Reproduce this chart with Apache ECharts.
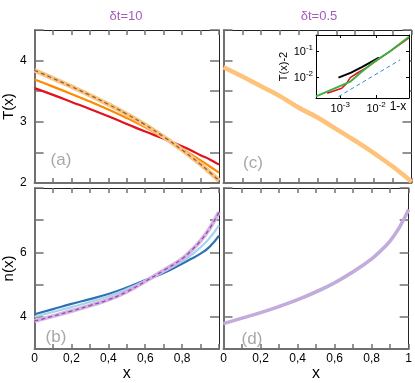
<!DOCTYPE html>
<html><head><meta charset="utf-8">
<script src="https://cdn.jsdelivr.net/npm/echarts@6/dist/echarts.min.js"></script>
<style>html,body{margin:0;padding:0;background:#fff}#c{width:415px;height:383px}</style>
</head><body><div id="c"></div>
<script>
// ---- data ----
const xs = [0, 0.1, 0.2, 0.3, 0.4, 0.5, 0.6, 0.7, 0.8, 0.85, 0.9, 0.95, 1];
// panel (a), dt=10, T(x)
const aRed    = [3.55, 3.44, 3.325, 3.21, 3.09, 2.965, 2.84, 2.725, 2.60, 2.53, 2.455, 2.385, 2.30];
const aOrange = [3.69, 3.575, 3.455, 3.33, 3.20, 3.06, 2.91, 2.74, 2.56, 2.465, 2.37, 2.27, 2.17];
const aLight  = [3.84, 3.71, 3.575, 3.435, 3.285, 3.125, 2.95, 2.755, 2.54, 2.425, 2.305, 2.175, 2.04];
const aDashed = [3.84, 3.71, 3.575, 3.435, 3.285, 3.125, 2.95, 2.755, 2.54, 2.425, 2.305, 2.175, 2.04];
// panel (c), dt=0.5, T(x)
const cRed    = [3.90, 3.75, 3.59, 3.43, 3.25, 3.09, 2.90, 2.70, 2.50, 2.39, 2.28, 2.16, 2.03];
const cOrange = [3.88, 3.73, 3.57, 3.41, 3.22, 3.06, 2.87, 2.68, 2.48, 2.37, 2.26, 2.14, 2.01];
const cLight  = [3.89, 3.74, 3.58, 3.42, 3.23, 3.07, 2.88, 2.69, 2.49, 2.38, 2.27, 2.15, 2.02];
// panel (b), dt=10, n(x)
const bDark   = [4.08, 4.24, 4.40, 4.55, 4.71, 4.91, 5.14, 5.36, 5.65, 5.80, 5.96, 6.18, 6.52];
const bLight  = [4.00, 4.15, 4.30, 4.46, 4.64, 4.86, 5.12, 5.40, 5.72, 5.92, 6.16, 6.45, 6.84];
const bPurple = [3.87, 4.02, 4.18, 4.35, 4.53, 4.78, 5.10, 5.44, 5.80, 6.06, 6.36, 6.75, 7.25];
// panel (d), dt=0.5, n(x)
const dBlue   = [3.78, 3.95, 4.12, 4.31, 4.51, 4.75, 5.03, 5.37, 5.77, 6.03, 6.33, 6.76, 7.32];
const dPurple = [3.79, 3.96, 4.13, 4.32, 4.53, 4.78, 5.06, 5.40, 5.80, 6.06, 6.36, 6.78, 7.33];
// inset: [1-x, T(x)-2]
const insetBlack = [[8.9e-4, 0.010], [2e-3, 0.0155], [4e-3, 0.025], [7.6e-3, 0.041], [0.012, 0.058]];
const insetRed   = [[4.3e-4, 2.5e-3], [1.1e-3, 3.9e-3], [1.5e-3, 6e-3], [1.9e-3, 0.010], [3e-3, 0.015], [5.5e-3, 0.024], [0.012, 0.052], [0.024, 0.10], [0.083, 0.33]];
const insetGreen = [[2.1e-4, 1.9e-3], [8.1e-4, 4.2e-3], [1.9e-3, 7e-3], [3.6e-3, 0.015], [7.6e-3, 0.035], [0.024, 0.10], [0.083, 0.37]];
const insetBlue  = [[8.9e-4, 1.86e-3], [0.047, 0.048]];
const titles = ['\u03b4t=10', '\u03b4t=0.5'];
const panelLabels = ['(a)', '(c)', '(b)', '(d)'];

// ---- chart ----
const GRAY = '#707070';
const FONT = 'Liberation Sans, Arial, sans-serif';
const zip = (x, y) => x.map((v, i) => [v, y[i]]);

const grids = [
  {left: 32, top: 30, width: 187, height: 153},
  {left: 223.5, top: 30, width: 188, height: 153},
  {left: 32, top: 188, width: 187, height: 164},
  {left: 223.5, top: 188, width: 188, height: 164},
  {left: 316, top: 35, width: 93, height: 63, show: true, backgroundColor: '#fff', borderWidth: 0, z: 3}
];

const xFmt = showOne => v => {
  const r = Math.round(v * 10);
  if (r % 2) return '';
  if (r === 0) return '0';
  if (r === 10) return showOne ? '1' : '';
  return '0,' + r;
};
const line = {show: true, onZero: false, lineStyle: {color: GRAY, width: 2}};
const lineThin = {show: true, onZero: false, lineStyle: {color: '#222', width: 1}};
const xTick = {show: true, inside: true, length: 5, lineStyle: {color: GRAY, width: 1.5}};
const yTick = {show: true, inside: true, length: 9, lineStyle: {color: GRAY, width: 1.5}};

const xAxis = [], yAxis = [];
for (let p = 0; p < 4; p++) {
  const bottomRow = p >= 2, leftCol = (p % 2) === 0;
  const base = {type: 'value', gridIndex: p, min: 0, max: 1, interval: 0.1, splitLine: {show: false}, axisTick: xTick};
  xAxis.push(Object.assign({}, base, {
    position: 'bottom', axisLine: line,
    axisLabel: {show: bottomRow, formatter: xFmt(!leftCol), color: '#000', fontSize: 12, fontFamily: FONT, margin: 4, showMinLabel: true, showMaxLabel: true},
    name: bottomRow ? 'x' : '', nameLocation: 'middle', nameGap: 17,
    nameTextStyle: {color: '#000', fontSize: 16, fontFamily: FONT}
  }));
  xAxis.push(Object.assign({}, base, {position: 'top', axisLine: lineThin, axisLabel: {show: false}}));
  const yb = bottomRow ? {min: 3, max: 8, interval: 1} : {min: 2, max: 4.5, interval: 0.5};
  const yFmt = bottomRow ? (v => (v === 4 || v === 6) ? String(v) : '')
                         : (v => Math.abs(v - Math.round(v)) < 1e-6 ? String(Math.round(v)) : '');
  const ybase = Object.assign({type: 'value', gridIndex: p, splitLine: {show: false}, axisTick: yTick}, yb);
  yAxis.push(Object.assign({}, ybase, {
    position: 'left', axisLine: line,
    axisLabel: {show: leftCol, formatter: yFmt, color: '#000', fontSize: 12, fontFamily: FONT, margin: 8, showMinLabel: true},
    name: leftCol ? (bottomRow ? 'n(x)' : 'T(x)') : '', nameLocation: 'middle', nameGap: 15,
    nameTextStyle: {color: '#000', fontSize: 15, fontFamily: FONT}
  }));
  yAxis.push(Object.assign({}, ybase, {position: 'right', axisLine: lineThin, axisLabel: {show: false}}));
}
// inset log axes
const logFmt = v => {
  const e = Math.log10(v);
  const r = Math.round(e);
  if (Math.abs(e - r) > 1e-6) return '';
  return '{b|10}{s|' + r + '}';
};
const rich = {b: {fontSize: 11, fontFamily: FONT, color: '#000'}, s: {fontSize: 8, fontFamily: FONT, color: '#000', padding: [0, 0, 7, 0]}};
const iLine = {show: true, onZero: false, lineStyle: {color: '#000', width: 1}};
const iTick = {show: true, inside: true, length: 3, lineStyle: {color: '#000', width: 1}};
const ixBase = {type: 'log', logBase: 10, gridIndex: 4, min: 2.1e-4, max: 0.083, splitLine: {show: false}, axisLine: iLine, axisTick: iTick, z: 4};
xAxis.push(Object.assign({}, ixBase, {position: 'bottom', axisLabel: {formatter: logFmt, rich: rich, margin: 3}}));
xAxis.push(Object.assign({}, ixBase, {position: 'top', axisLabel: {show: false}}));
const iyBase = {type: 'log', logBase: 10, gridIndex: 4, min: 1.65e-3, max: 0.43, splitLine: {show: false}, axisLine: iLine, axisTick: iTick, z: 4};
yAxis.push(Object.assign({}, iyBase, {position: 'left', axisLabel: {formatter: logFmt, rich: rich, margin: 3},
  name: 'T(x)-2', nameLocation: 'middle', nameGap: 27, nameTextStyle: {color: '#000', fontSize: 11, fontFamily: FONT}}));
yAxis.push(Object.assign({}, iyBase, {position: 'right', axisLabel: {show: false}}));

const S = (p, data, color, width, extra) => Object.assign({
  type: 'line', xAxisIndex: 2 * p, yAxisIndex: 2 * p, data: data, showSymbol: false, smooth: true,
  lineStyle: {color: color, width: width}, silent: true
}, extra || {});
const I = (data, color, width, type) => ({
  type: 'line', xAxisIndex: 8, yAxisIndex: 8, data: data, showSymbol: false, z: 5, silent: true,
  lineStyle: {color: color, width: width, type: type || 'solid'}
});

const series = [
  S(0, zip(xs, aRed), '#e3101e', 2.2),
  S(0, zip(xs, aOrange), '#ff8a00', 2.2),
  S(0, zip(xs, aLight), '#ffc27a', 4.5),
  S(0, zip(xs, aDashed), '#7d6550', 1.3, {lineStyle: {color: '#7d6550', width: 1.3, type: [4, 3]}}),
  S(1, zip(xs, cRed), '#e3101e', 1.5),
  S(1, zip(xs, cOrange), '#ff8a00', 1.5),
  S(1, zip(xs, cLight), '#ffc27a', 4.5),
  S(2, zip(xs, bDark), '#2f72b4', 2.2),
  S(2, zip(xs, bLight), '#a6d2ec', 2.2),
  S(2, zip(xs, bPurple), '#d3b3e2', 4),
  S(2, zip(xs, bPurple), '#9a4aae', 1.3, {lineStyle: {color: '#9a4aae', width: 1.3, type: [4, 3]}}),
  S(3, zip(xs, dBlue), '#a6d2ec', 2),
  S(3, zip(xs, dPurple), '#c3abdc', 3.5),
  I(insetBlack, '#000', 2),
  I(insetRed, '#e3101e', 1.5),
  I(insetGreen, '#3cb043', 2),
  I(insetBlue, '#3a86c8', 1, [4, 3])
];

const graphic = [
  {type: 'text', x: 126, y: 16, style: {text: titles[0], fill: '#a45bba', font: '13px ' + FONT, textAlign: 'center', textVerticalAlign: 'middle'}},
  {type: 'text', x: 319, y: 16, style: {text: titles[1], fill: '#a45bba', font: '13px ' + FONT, textAlign: 'center', textVerticalAlign: 'middle'}},
  {type: 'text', x: 61, y: 160, style: {text: panelLabels[0], fill: '#a8a8a8', font: '17px ' + FONT, textAlign: 'center', textVerticalAlign: 'middle'}},
  {type: 'text', x: 253, y: 163, style: {text: panelLabels[1], fill: '#a8a8a8', font: '17px ' + FONT, textAlign: 'center', textVerticalAlign: 'middle'}},
  {type: 'text', x: 56, y: 337, style: {text: panelLabels[2], fill: '#a8a8a8', font: '17px ' + FONT, textAlign: 'center', textVerticalAlign: 'middle'}},
  {type: 'text', x: 252, y: 339, style: {text: panelLabels[3], fill: '#a8a8a8', font: '17px ' + FONT, textAlign: 'center', textVerticalAlign: 'middle'}},
  {type: 'text', x: 398, y: 107, z: 10, style: {text: '1-x', fill: '#000', font: '12px ' + FONT, textAlign: 'center', textVerticalAlign: 'middle'}}
];

const chart = echarts.init(document.getElementById('c'), null, {renderer: 'canvas'});
chart.setOption({animation: false, backgroundColor: '#fff', grid: grids, xAxis: xAxis, yAxis: yAxis, series: series, graphic: graphic});
</script></body></html>
